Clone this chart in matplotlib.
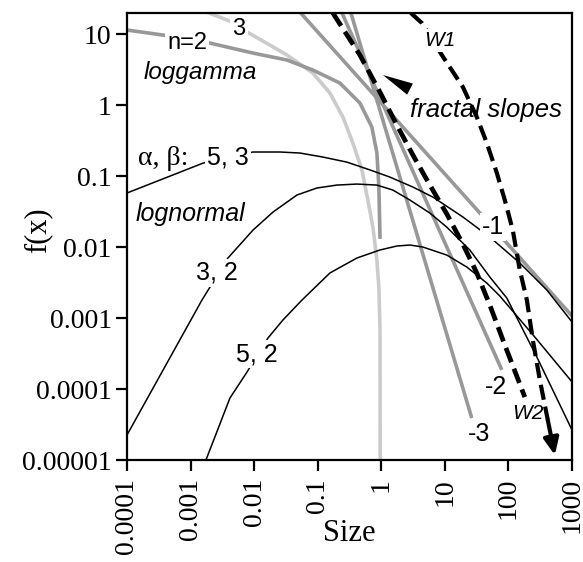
import numpy as np
import matplotlib
matplotlib.use("Agg")
import matplotlib.pyplot as plt

plt.rcParams['lines.scale_dashes'] = False
plt.rcParams['font.family'] = ['Liberation Sans', 'DejaVu Sans']

# ---------------- data ----------------
x_ticks = [1e-4, 1e-3, 1e-2, 1e-1, 1, 10, 100, 1000]
x_ticklabels = ['0.0001', '0.001', '0.01', '0.1', '1', '10', '100', '1000']
y_ticks = [1e-5, 1e-4, 1e-3, 1e-2, 1e-1, 1, 10]
y_ticklabels = ['0.00001', '0.0001', '0.001', '0.01', '0.1', '1', '10']

# lognormal curves (alpha, beta)
ln53_x = [1e-4, 0.00157, 0.00957, 0.0255, 0.0525, 0.121, 0.288, 0.662, 1.36, 3.14, 6.47, 19.2, 51, 151, 402, 1000]
ln53_y = [0.0577, 0.152, 0.218, 0.218, 0.211, 0.185, 0.157, 0.122, 0.0968, 0.070, 0.0506, 0.0265, 0.0138, 0.00596, 0.00248, 0.00088]

ln32_x = [1e-4, 0.00151, 0.00387, 0.00957, 0.0198, 0.0471, 0.0970, 0.200, 0.413, 0.853, 1.52, 2.82, 5.81, 10.7, 24.7, 51.0, 94.4, 280, 1000]
ln32_y = [2.25e-5, 0.00179, 0.0070, 0.0173, 0.0311, 0.0540, 0.0678, 0.0746, 0.0771, 0.0746, 0.0635, 0.0459, 0.0301, 0.0191, 0.00908, 0.00378, 0.00191, 0.000282, 2.65e-5]

ln52_x = [0.001746, 0.00416, 0.00771, 0.01648, 0.02838, 0.0565, 0.1556, 0.413, 0.951, 1.758, 2.818, 4.508, 10.74, 22.2, 45.7, 73.3, 260, 1000]
ln52_y = [1e-5, 7.46e-5, 1.73e-4, 5.22e-4, 9.38e-4, 0.00179, 0.00431, 0.0070, 0.00908, 0.01033, 0.01067, 0.0100, 0.0077, 0.00522, 0.00311, 0.00204, 0.00054, 0.000126]

# loggamma curves
lg2_x = [1e-4, 3.68e-4, 0.00202, 0.00957, 0.0328, 0.0841, 0.2234, 0.461, 0.711, 0.853, 0.916, 0.955]
lg2_y = [11.4, 9.68, 7.46, 5.40, 4.31, 3.11, 2.04, 1.067, 0.490, 0.211, 0.070, 0.0138]

lg3_x = [0.00165, 0.00448, 0.00771, 0.0177, 0.0328, 0.0841, 0.1556, 0.249, 0.357, 0.496, 0.615, 0.738, 0.853, 0.916, 0.955, 0.96]
lg3_y = [21.0, 14.8, 10.7, 7.0, 5.06, 2.82, 1.476, 0.678, 0.292, 0.1216, 0.0459, 0.0191, 0.00656, 0.0027, 6.8e-4, 1e-5]

# fractal (power-law) slopes: end points
fr1_x = [0.05, 1000]
fr1_y = [21.4, 0.00107]
fr2_x = [0.235, 78.7]
fr2_y = [20.8, 1.86e-4]
fr3_x = [0.33, 26.5]
fr3_y = [20.3, 3.9e-5]

# Weibull curves
w1_x = [2.92, 4.35, 8.97, 19.2, 31.8, 45.7, 65.8, 87.7, 117, 151, 195, 242, 312, 416, 537]
w1_y = [19.8, 14.3, 5.06, 1.795, 0.678, 0.292, 0.110, 0.0459, 0.0173, 0.00474, 0.00179, 4.9e-4, 1.34e-4, 3.66e-5, 1.17e-5]
w2_x = [0.173, 0.461, 0.951, 1.758, 3.14, 5.81, 10.74, 19.2, 31.8, 51.0, 87.7, 181]
w2_y = [19.8, 5.06, 1.524, 0.522, 0.198, 0.0746, 0.0292, 0.0110, 0.00431, 0.00152, 4.17e-4, 7.7e-5]

# ---------------- figure ----------------
fig = plt.figure(figsize=(5.83, 5.62), dpi=100)
ax = fig.add_axes([127/583, 102/562, 445/583, 447/562])
ax.set_xscale('log')
ax.set_yscale('log')
ax.set_xlim(1e-4, 1e3)
ax.set_ylim(1e-5, 19.8)

GRAY = '#989898'
LIGHT = '#cbcbcb'

# fractal slopes
for fx, fy in [(fr1_x, fr1_y), (fr2_x, fr2_y), (fr3_x, fr3_y)]:
    ax.plot(fx, fy, color=GRAY, lw=2.6, solid_capstyle='butt', zorder=2)

# loggamma
ax.plot(lg3_x, lg3_y, color=LIGHT, lw=2.6, zorder=2)
ax.plot(lg2_x, lg2_y, color=GRAY, lw=2.6, zorder=2)

# lognormal
for lx, ly in [(ln53_x, ln53_y), (ln32_x, ln32_y), (ln52_x, ln52_y)]:
    ax.plot(lx, ly, color='black', lw=1.1, zorder=3)

# Weibull
ax.plot(w2_x, w2_y, color='black', lw=3.4, dashes=(11, 5), zorder=4)
ax.plot(w1_x[:-1], w1_y[:-1], color='black', lw=3.0, dashes=(11, 5), zorder=4)
ax.annotate('', xy=(w1_x[-1], w1_y[-1]), xytext=(w1_x[-2], w1_y[-2]),
            arrowprops=dict(arrowstyle='-|>,head_length=1.0,head_width=0.45',
                            color='black', lw=3.0, shrinkA=0, shrinkB=0), zorder=4)

# arrow pointing at fractal slopes convergence
ax.annotate('', xy=(1.06, 2.65), xytext=(2.82, 1.68),
            arrowprops=dict(arrowstyle='-|>,head_length=2.2,head_width=0.45',
                            color='black', lw=0, shrinkA=0, shrinkB=0), zorder=5)

# ---------------- text labels ----------------
wb = dict(facecolor='white', edgecolor='none', pad=1.5)
sans = ['Liberation Sans', 'DejaVu Sans']
serif = ['Liberation Serif', 'DejaVu Serif']
def lab(x, y, s, size=17, style='normal', family=sans, box=True):
    ax.text(x, y, s, fontsize=size, fontstyle=style, family=family,
            ha='center', va='center', zorder=6,
            bbox=wb if box else None)

lab(8.77e-4, 7.46, 'n=2', 17)
lab(0.00577, 11.7, '3', 17)
lab(0.001406, 2.92, 'loggamma', 17.5, 'italic', box=False)
lab(3.68e-4, 0.1795, 'α, β:', 20, family=serif, box=False)
lab(0.00387, 0.185, '5, 3', 18)
lab(9.8e-4, 0.0292, 'lognormal', 18, 'italic', box=False)
lab(0.0026, 0.00431, '3, 2', 18)
lab(0.01107, 3.11e-4, '5, 2', 18)
lab(56.9, 0.0191, '-1', 18)
lab(63.4, 1.07e-4, '-2', 18, box=False)
lab(34.3, 2.32e-5, '-3', 18, box=False)
lab(8.34, 8.22, 'W1', 15, 'italic')
lab(202, 4.59e-5, 'W2', 15, 'italic', box=False)
lab(44.2, 0.851, 'fractal slopes', 18.5, 'italic', box=False)

# ---------------- axes styling ----------------
ax.set_xticks(x_ticks)
ax.set_xticklabels(x_ticklabels, rotation=90, family=serif, fontsize=20)
ax.set_yticks(y_ticks)
ax.set_yticklabels(y_ticklabels, family=serif, fontsize=20)
ax.minorticks_off()
ax.tick_params(direction='out', length=8, width=1.6)
ax.tick_params(axis='x', pad=5)
ax.tick_params(axis='y', pad=3)
for sp in ax.spines.values():
    sp.set_linewidth(1.6)

ax.set_ylabel('f(x)', family=serif, fontsize=22, rotation=90, ha='center', va='center')
ax.yaxis.set_label_coords(-0.2, 0.515)
ax.set_xlabel('Size', family=serif, fontsize=22, ha='center', va='center')
ax.xaxis.set_label_coords(0.5, -0.165)

fig.savefig('out.png', dpi=100)
